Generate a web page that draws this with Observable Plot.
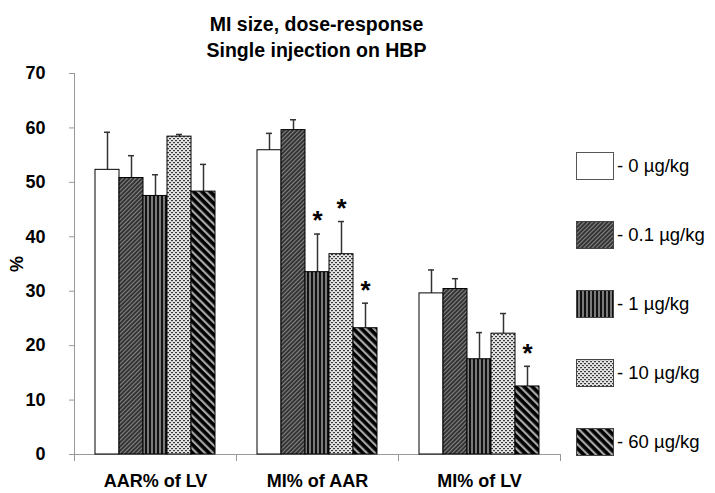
<!DOCTYPE html>
<html>
<head>
<meta charset="utf-8">
<script src="https://cdn.jsdelivr.net/npm/d3@7"></script>
<script src="https://cdn.jsdelivr.net/npm/@observablehq/plot@0.6"></script>
<style>
  html, body { margin: 0; padding: 0; background: #fff; }
  body { width: 715px; height: 493px; position: relative; overflow: hidden; font-family: "Liberation Sans", Arial, sans-serif; }
  #title { position: absolute; left: 73px; top: 11px; width: 487px; text-align: center; font-weight: bold; font-size: 19.5px; line-height: 26px; color: #000; }
  #chart { position: absolute; left: 0; top: 62px; }
  #legend { position: absolute; left: 576px; top: 152px; }
  .item { display: flex; align-items: center; height: 28px; margin-bottom: 41px; }
  .item span { font-size: 18.5px; margin-left: 3px; color: #000; white-space: nowrap; }
</style>
</head>
<body>
<svg width="0" height="0" style="position:absolute">
  <defs>
    <pattern id="p0" patternUnits="userSpaceOnUse" width="4" height="4">
      <rect width="4" height="4" fill="#ffffff"/>
    </pattern>
    <pattern id="p01" patternUnits="userSpaceOnUse" width="3" height="3" patternTransform="rotate(45)">
      <rect width="3" height="3" fill="#303030"/>
      <rect width="1.1" height="3" fill="#858585"/>
    </pattern>
    <pattern id="p1" patternUnits="userSpaceOnUse" width="4" height="4">
      <rect width="4" height="4" fill="#111111"/>
      <rect x="2" width="2" height="4" fill="#7a7a7a"/>
    </pattern>
    <pattern id="p10" patternUnits="userSpaceOnUse" width="4" height="4">
      <rect width="4" height="4" fill="#e4e4e4"/>
      <rect x="0" y="0" width="2" height="1.2" fill="#3a3a3a"/>
      <rect x="2" y="2" width="2" height="1.2" fill="#3a3a3a"/>
    </pattern>
    <pattern id="p60" patternUnits="userSpaceOnUse" width="5.8" height="5.8" patternTransform="rotate(-45)">
      <rect width="5.8" height="5.8" fill="#000000"/>
      <rect width="2.2" height="5.8" fill="#a8a8a8"/>
    </pattern>
  </defs>
</svg>
<div id="title">MI size, dose-response<br>Single injection on HBP</div>
<div id="chart"></div>
<div id="legend"></div>
<script>
const categories = ["AAR% of LV", "MI% of AAR", "MI% of LV"];
const doses = ["0 µg/kg", "0.1 µg/kg", "1 µg/kg", "10 µg/kg", "60 µg/kg"];
const patterns = ["url(#p0)", "url(#p01)", "url(#p1)", "url(#p10)", "url(#p60)"];

const aarOfLvMean = [52.3, 50.8, 47.5, 58.4, 48.3];
const aarOfLvErr  = [6.9, 4.1, 3.9, 0.4, 5.0];
const miOfAarMean = [55.9, 59.6, 33.5, 36.8, 23.2];
const miOfAarErr  = [3.1, 1.9, 7.0, 6.0, 4.6];
const miOfLvMean  = [29.6, 30.4, 17.5, 22.2, 12.5];
const miOfLvErr   = [4.3, 1.9, 4.9, 3.7, 3.7];
const aarOfLvSig  = [false, false, false, false, false];
const miOfAarSig  = [false, false, true, true, true];
const miOfLvSig   = [false, false, false, false, true];

const yTicks = [0, 10, 20, 30, 40, 50, 60, 70];

const series = [
  [aarOfLvMean, aarOfLvErr, aarOfLvSig],
  [miOfAarMean, miOfAarErr, miOfAarSig],
  [miOfLvMean, miOfLvErr, miOfLvSig]
];
const rows = [];
categories.forEach((c, i) => {
  doses.forEach((d, j) => {
    rows.push({category: c, dose: d, mean: series[i][0][j], err: series[i][1][j], sig: series[i][2][j]});
  });
});

const H = 431, MT = 11, MB = 39;
const plotH = H - MT - MB;
const font = "Liberation Sans, Arial, sans-serif";

const chart = Plot.plot({
  width: 715,
  height: H,
  marginLeft: 73,
  marginRight: 155,
  marginTop: MT,
  marginBottom: MB,
  style: {fontFamily: font, background: "white"},
  fx: {domain: categories, padding: 0},
  x: {domain: doses, paddingInner: 0, paddingOuter: 0.75, axis: null},
  y: {domain: [0, 70]},
  color: {type: "ordinal", domain: doses, range: patterns},
  marks: [
    Plot.ruleY([0], {stroke: "#999"}),
    Plot.frame({anchor: "left", stroke: "#999", insetTop: plotH, insetBottom: -6}),
    Plot.frame({anchor: "right", facetAnchor: "right", stroke: "#999", insetTop: plotH, insetBottom: -6}),
    Plot.frame({anchor: "left", facetAnchor: "left", stroke: "#999"}),
    Plot.axisY({ticks: yTicks, tickSize: 5, tickPadding: 24, stroke: "#999", fill: "black",
      fontSize: 18, fontWeight: "bold", label: "%", labelAnchor: "center", labelOffset: 64, labelArrow: false}),
    Plot.axisFx({anchor: "bottom", tickSize: 0, tickPadding: 20, fontSize: 18, fontWeight: "bold", label: null}),
    Plot.ruleX(rows, {fx: "category", x: "dose", y1: "mean", y2: d => d.mean + d.err, stroke: "#333", strokeWidth: 1.5}),
    Plot.tickY(rows, {fx: "category", x: "dose", y: d => d.mean + d.err, stroke: "#333", strokeWidth: 1.5, insetLeft: 9, insetRight: 9}),
    Plot.barY(rows, {fx: "category", x: "dose", y: "mean", fill: "dose", stroke: "#000", strokeWidth: 1}),
    Plot.text(rows.filter(d => d.sig), {fx: "category", x: "dose", y: d => d.mean + d.err, text: () => "*",
      dy: -13, fontSize: 26, fontWeight: "bold", fill: "black"})
  ]
});
document.getElementById("chart").appendChild(chart);

const legend = document.getElementById("legend");
doses.forEach((d, i) => {
  const item = document.createElement("div");
  item.className = "item";
  item.innerHTML = `<svg width="38" height="28"><rect x="0.5" y="0.5" width="37" height="27" fill="${patterns[i]}" stroke="${i === 0 ? '#555' : '#444'}"/></svg><span>- ${d}</span>`;
  legend.appendChild(item);
});
</script>
</body>
</html>
